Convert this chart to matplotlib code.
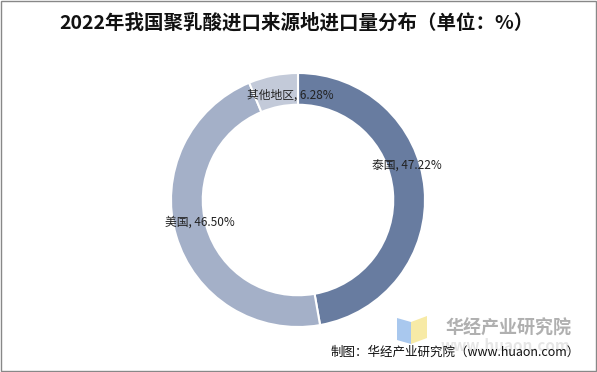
import matplotlib.pyplot as plt
import numpy as np
from matplotlib.patches import Rectangle, Polygon

plt.rcParams['font.family'] = ['Noto Sans CJK SC', 'DejaVu Sans']

labels = ['泰国', '美国', '其他地区']
values = [47.22, 46.50, 6.28]
colors = ['#687ca0', '#a4b0c8', '#c3cad9']

fig = plt.figure(figsize=(5.97, 3.72), dpi=100)
ax = fig.add_axes([0, 0, 1, 1])
ax.set_xlim(0, 597)
ax.set_ylim(372, 0)
ax.axis('off')

# pie in its own axes, centred at (298, 200) px with radius 127 px
cx, cy, r = 298, 200, 127
pax = fig.add_axes([(cx - r) / 597, 1 - (cy + r) / 372, 2 * r / 597, 2 * r / 372])
wedges, _ = pax.pie(values, colors=colors, startangle=90, counterclock=False,
                    wedgeprops=dict(width=0.25, edgecolor='white', linewidth=1.5))
pax.set_aspect('auto')
pax.set_xlim(-1, 1)
pax.set_ylim(-1, 1)

# label positions (fraction of radius, angle in degrees)
label_pos = [(0.90, 17), (0.79, 193), (0.83, 94)]
for lab, v, (rr, ang) in zip(labels, values, label_pos):
    a = np.deg2rad(ang)
    pax.text(rr * np.cos(a), rr * np.sin(a), f'{lab}, {v:.2f}%', ha='center', va='center',
             fontsize=8.5, color='#222222')

ax.text(296, 23, '2022年我国聚乳酸进口来源地进口量分布（单位：%）', ha='center', va='center',
        fontsize=14, fontweight='bold', color='#111111')

# watermark
ax.add_patch(Polygon([(397, 318), (411, 322), (411, 344), (397, 340)], closed=True,
                     facecolor='#a9c8ee', edgecolor='none'))
ax.add_patch(Polygon([(411, 322), (427, 316), (427, 338), (411, 344)], closed=True,
                     facecolor='#f7eaa6', edgecolor='none'))
ax.text(508, 328, '华经产业研究院', ha='center', va='center', fontsize=13, fontweight='bold',
        color='#b0b0b0')
ax.text(505, 346, 'www.huaon.com', ha='center', va='center', fontsize=11, fontweight='bold',
        color='#e6e6e6')

ax.text(580, 352, '制图：华经产业研究院（www.huaon.com）', ha='right', va='center',
        fontsize=9, color='#111111')

ax.add_patch(Rectangle((0.5, 0.5), 595.5, 370, fill=False, edgecolor='#888888', linewidth=1))

fig.savefig('out.png', dpi=100)
